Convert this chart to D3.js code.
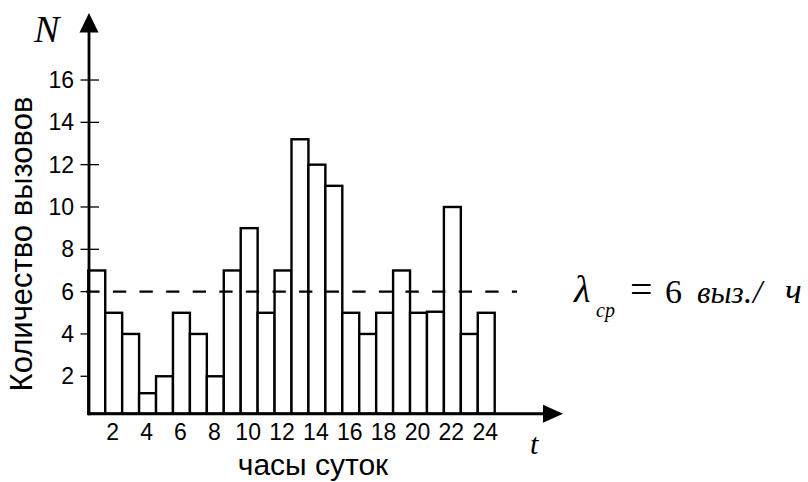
<!DOCTYPE html>
<html><head><meta charset="utf-8">
<script src="https://cdn.jsdelivr.net/npm/d3@7"></script>
<style>body{margin:0;background:#fff}</style>
</head><body>
<svg id="c" width="808" height="482"></svg>
<script>
const hours = d3.range(1, 25);
const calls = [7,5,4,1.2,2,5,4,2,7,9,5,7,13.2,12,11,5,4,5,7,5,5.05,10,4,5];
const yTicks = [2,4,6,8,10,12,14,16];
const xTickHours = [2,4,6,8,10,12,14,16,18,20,22,24];
const meanRate = 6;
const yTitle = "Количество вызовов";
const xTitle = "часы суток";

const svg = d3.select("#c");
const sans = "'Liberation Sans', Arial, sans-serif";
const serif = "'Liberation Serif', 'Times New Roman', serif";

const x = d3.scaleBand().domain(hours).range([88.3, 494.7]).padding(0);
const y = d3.scaleLinear().domain([0, 18]).range([418.6, 37.7]);
const baseY = y(0.23);
const axisX = 89;

// y ticks (crossing axis)
svg.append("g").selectAll("line").data(yTicks).join("line")
  .attr("x1", axisX - 8.5).attr("x2", axisX + 10)
  .attr("y1", d => y(d)).attr("y2", d => y(d))
  .attr("stroke", "#000").attr("stroke-width", 1.3);

svg.append("g").selectAll("text").data(yTicks).join("text")
  .attr("x", 74).attr("y", d => y(d) + 8)
  .attr("text-anchor", "end").attr("font-family", sans).attr("font-size", 23)
  .text(d => d);

// bars
svg.append("g").selectAll("rect").data(hours).join("rect")
  .attr("x", d => x(d)).attr("width", x.bandwidth())
  .attr("y", (d, i) => y(calls[i])).attr("height", (d, i) => baseY - y(calls[i]))
  .attr("fill", "#fff").attr("stroke", "#000").attr("stroke-width", 2.4);

// mean dashed line
svg.append("line")
  .attr("x1", 86).attr("x2", 517).attr("y1", y(meanRate)).attr("y2", y(meanRate))
  .attr("stroke", "#000").attr("stroke-width", 2.4)
  .attr("stroke-dasharray", "13.3 13.3").attr("stroke-dashoffset", -0.3);

// x tick labels
svg.append("g").selectAll("text").data(xTickHours).join("text")
  .attr("x", d => x(d) + x.bandwidth() / 2 - 1).attr("y", 440)
  .attr("text-anchor", "middle").attr("font-family", sans).attr("font-size", 23)
  .text(d => d);

// axes
svg.append("line").attr("x1", axisX).attr("x2", axisX).attr("y1", baseY + 1.5).attr("y2", 30)
  .attr("stroke", "#000").attr("stroke-width", 2.8);
svg.append("path").attr("d", `M${axisX},13 L${axisX - 9.5},32.5 L${axisX + 9.5},32.5 Z`).attr("fill", "#000");
svg.append("line").attr("x1", axisX - 1.4).attr("x2", 546).attr("y1", baseY).attr("y2", baseY)
  .attr("stroke", "#000").attr("stroke-width", 2.8);
svg.append("path").attr("d", `M563,${baseY} L543,${baseY - 9} L543,${baseY + 9} Z`).attr("fill", "#000");

// axis letters
svg.append("text").attr("x", 34).attr("y", 42).attr("font-family", serif)
  .attr("font-style", "italic").attr("font-size", 38).text("N");
svg.append("text").attr("x", 530).attr("y", 454).attr("font-family", serif)
  .attr("font-style", "italic").attr("font-size", 30).text("t");

// titles
svg.append("text").attr("transform", "translate(32,244) rotate(-90)")
  .attr("text-anchor", "middle").attr("font-family", sans).attr("font-size", 31)
  .text(yTitle);
svg.append("text").attr("x", 313).attr("y", 475)
  .attr("text-anchor", "middle").attr("font-family", sans).attr("font-size", 30)
  .text(xTitle);

// mean annotation
const ann = svg.append("g").attr("font-family", serif);
ann.append("text").attr("x", 574).attr("y", 302).attr("font-style", "italic").attr("font-size", 38).text("λ");
ann.append("text").attr("x", 596).attr("y", 317).attr("font-style", "italic").attr("font-size", 20).text("ср");
ann.append("text").attr("x", 630).attr("y", 303).attr("font-size", 40).text("=");
ann.append("text").attr("x", 665).attr("y", 303).attr("font-size", 34).text(meanRate);
ann.append("text").attr("x", 697).attr("y", 303).attr("font-style", "italic").attr("font-size", 31).text("выз");
ann.append("text").attr("x", 744).attr("y", 303).attr("font-style", "italic").attr("font-size", 33).text(".");
ann.append("text").attr("x", 753).attr("y", 303).attr("font-style", "italic").attr("font-size", 33).text("/");
ann.append("text").attr("x", 785).attr("y", 303).attr("font-style", "italic").attr("font-size", 35).text("ч");
</script>
</body></html>
